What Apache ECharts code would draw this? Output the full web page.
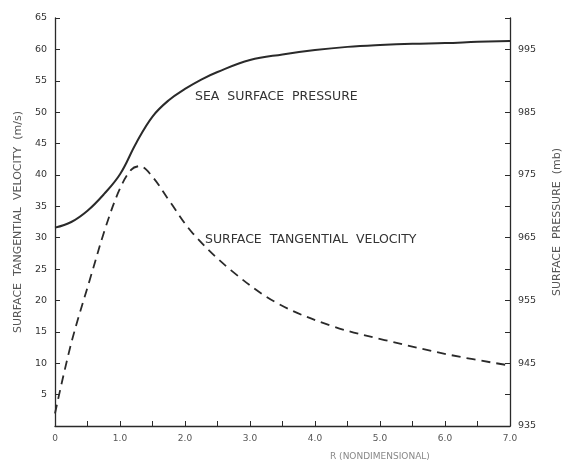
<!DOCTYPE html>
<html>
<head>
    <meta charset="utf-8"/>
    <title>Surface pressure and tangential velocity</title>
    <script src="https://cdn.jsdelivr.net/npm/echarts@6.0.0/dist/echarts.min.js"></script>
    <style>
        html, body { margin: 0; padding: 0; background: #fff; }
        #chart { width: 563px; height: 464px; }
    </style>
</head>
<body>
<div id="chart"></div>
<script type="text/javascript">
    // sea surface pressure (mb) against nondimensional radius
    var pressureR  = [0, 0.25, 0.5, 0.75, 1.0, 1.25, 1.5, 1.75, 2.0, 2.25, 2.5, 3.0, 3.5, 4.0, 4.5, 5.0, 5.5, 6.0, 6.5, 7.0];
    var pressureMb = [966.6, 967.5, 969.3, 971.9, 975.1, 980.1, 984.3, 986.9, 988.7, 990.2, 991.4, 993.3, 994.2, 994.9, 995.4, 995.7, 995.9, 996.0, 996.2, 996.35];

    // surface tangential velocity (m/s)
    var velocityR = [0, 0.25, 0.55, 0.78, 0.99, 1.17, 1.3, 1.5, 1.75, 2.12, 2.71, 3.43, 4.3, 5.07, 6.09, 6.96];
    var velocity  = [2, 13.2, 23.8, 31.7, 37.6, 40.8, 41.4, 39.7, 36.0, 30.7, 24.8, 19.5, 15.8, 13.7, 11.3, 9.7];

    var ink = '#2a2a2a';
    var labelFont = 'DejaVu Sans';

    function pairs(xs, ys) {
        return xs.map(function (x, i) { return [x, ys[i]]; });
    }

    var chart = echarts.init(document.getElementById('chart'));
    var option = {
        backgroundColor: '#fff',
        animation: false,
        grid: { left: 55, right: 53, top: 18, bottom: 38, outerBoundsMode: 'none' },
        xAxis: {
            type: 'value',
            min: 0,
            max: 7,
            interval: 0.5,
            axisLine: { show: true, lineStyle: { color: ink, width: 1.3 } },
            axisTick: { show: true, inside: true, length: 5, lineStyle: { color: ink } },
            splitLine: { show: false },
            axisLabel: {
                color: '#555',
                fontFamily: labelFont,
                fontSize: 9,
                margin: 8,
                formatter: function (v) {
                    if (v === 0) return '0';
                    return v % 1 === 0 ? v.toFixed(1) : '';
                }
            }
        },
        yAxis: [{
            type: 'value',
            min: 0,
            max: 65,
            interval: 5,
            name: 'SURFACE  TANGENTIAL  VELOCITY  (m/s)',
            nameLocation: 'middle',
            nameRotate: 90,
            nameGap: 31,
            nameTextStyle: { color: '#555', fontFamily: labelFont, fontSize: 11 },
            axisLine: { show: true, lineStyle: { color: ink, width: 1.3 } },
            axisTick: { show: true, inside: true, length: 5, lineStyle: { color: ink } },
            splitLine: { show: false },
            axisLabel: {
                color: '#333',
                fontFamily: labelFont,
                fontSize: 9.5,
                margin: 8,
                formatter: function (v) { return v === 0 ? '' : String(v); }
            }
        }, {
            type: 'value',
            position: 'right',
            min: 935,
            max: 1000,
            interval: 5,
            name: 'SURFACE  PRESSURE  (mb)',
            nameLocation: 'middle',
            nameRotate: 90,
            nameGap: 42,
            nameTextStyle: { color: '#555', fontFamily: labelFont, fontSize: 11 },
            axisLine: { show: true, lineStyle: { color: ink, width: 1.3 } },
            axisTick: { show: true, inside: true, length: 5, lineStyle: { color: ink } },
            splitLine: { show: false },
            axisLabel: {
                color: '#333',
                fontFamily: labelFont,
                fontSize: 9.5,
                margin: 8,
                formatter: function (v) {
                    return (v - 935) % 10 === 0 && v < 1000 ? String(v) : '';
                }
            }
        }],
        graphic: [{
            type: 'text',
            left: 195,
            top: 90,
            style: { text: 'SEA  SURFACE  PRESSURE', fill: '#333', font: '12.5px "DejaVu Sans"' }
        }, {
            type: 'text',
            left: 205,
            top: 233,
            style: { text: 'SURFACE  TANGENTIAL  VELOCITY', fill: '#333', font: '12.5px "DejaVu Sans"' }
        }, {
            type: 'text',
            left: 330,
            top: 452,
            style: { text: 'R (NONDIMENSIONAL)', fill: '#888', font: '9px "DejaVu Sans"' }
        }],
        series: [{
            name: 'Sea surface pressure',
            type: 'line',
            yAxisIndex: 1,
            smooth: 0.4,
            symbol: 'none',
            lineStyle: { color: ink, width: 2 },
            data: pairs(pressureR, pressureMb)
        }, {
            name: 'Surface tangential velocity',
            type: 'line',
            yAxisIndex: 0,
            smooth: 0.35,
            symbol: 'none',
            lineStyle: { color: ink, width: 1.8, type: [9, 6] },
            data: pairs(velocityR, velocity)
        }]
    };
    chart.setOption(option);
</script>
</body>
</html>
